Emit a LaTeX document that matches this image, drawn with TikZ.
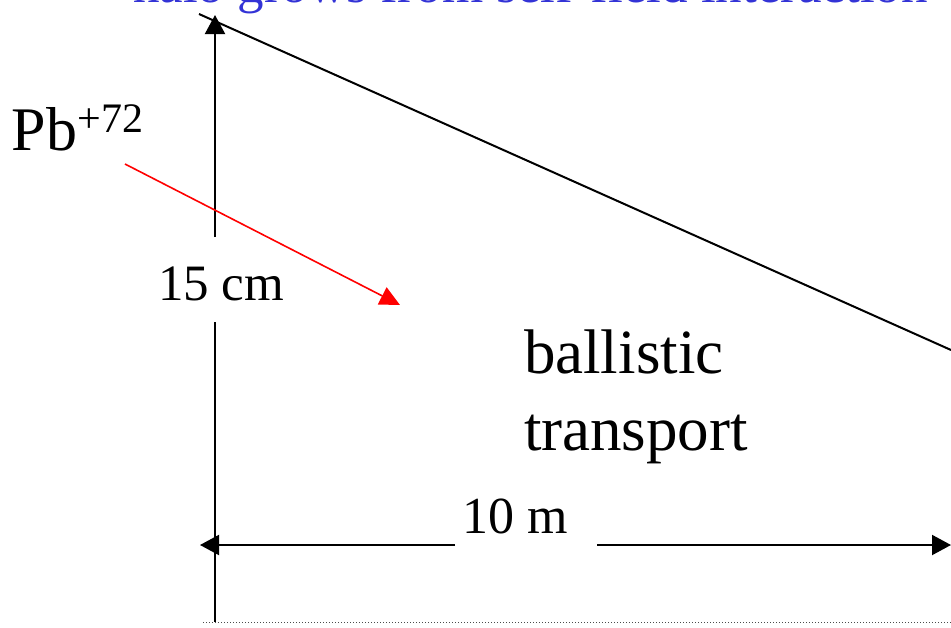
\documentclass[tikz,border=0pt]{standalone}
\usepackage{fontspec}
\setmainfont{Liberation Serif}
\usetikzlibrary{arrows.meta}
\definecolor{titleblue}{RGB}{51,51,214}
\begin{document}
\begin{tikzpicture}[x=1pt,y=-1pt,
  lbl/.style={inner sep=0pt,outer sep=0pt,anchor=base west},
  blk/.style={line width=2pt,black},
  tip/.style={-{Triangle[length=19pt,width=20pt]}}]
\useasboundingbox (0,0) rectangle (951,627);
% title (cut off at top)
\node[lbl,text=titleblue,font=\fontsize{53}{60}\selectfont] (title) at (133,2.5) {halo grows from self-field interaction};
% slanted envelope line
\coordinate (s1) at (199,14);
\coordinate (s2) at (951,350);
\draw[blk] (s1) -- (s2);
% vertical dimension
\node[lbl,font=\fontsize{51}{60}\selectfont] (cm) at (158,300) {15 cm};
\coordinate (vtop) at (215,15);
\coordinate (vgap1) at (215,237);
\coordinate (vgap2) at (215,322);
\coordinate (vbot) at (215,622);
\draw[blk,tip] (vgap1) -- (vtop);
\draw[blk] (vgap2) -- (vbot);
% horizontal dimension
\node[lbl,font=\fontsize{52}{60}\selectfont] (m) at (462,533) {10 m};
\coordinate (hl) at (200,545);
\coordinate (hg1) at (455,545);
\coordinate (hg2) at (597,545);
\coordinate (hr) at (951,545);
\draw[blk,tip] (hg1) -- (hl);
\draw[blk,tip] (hg2) -- (hr);
% ion label and beam arrow
\node[lbl,font=\fontsize{62}{70}\selectfont] (pb) at (12,150) {Pb\raisebox{18pt}{\fontsize{42}{50}\selectfont +72}};
\coordinate (r1) at (125,164);
\coordinate (r2) at (400,305);
\draw[red,line width=1.6pt,-{Triangle[length=20pt,width=19pt]}] (r1) -- (r2);
% ballistic transport
\node[lbl,font=\fontsize{63}{77}\selectfont] (b1) at (524,373) {ballistic};
\node[lbl,font=\fontsize{63}{77}\selectfont] (b2) at (524,450) {transport};
% dotted bottom line
\coordinate (d1) at (203,622);
\coordinate (d2) at (951,622);
\draw[dotted,line width=1pt,black!70] (d1) -- (d2);
\end{tikzpicture}
\end{document}
